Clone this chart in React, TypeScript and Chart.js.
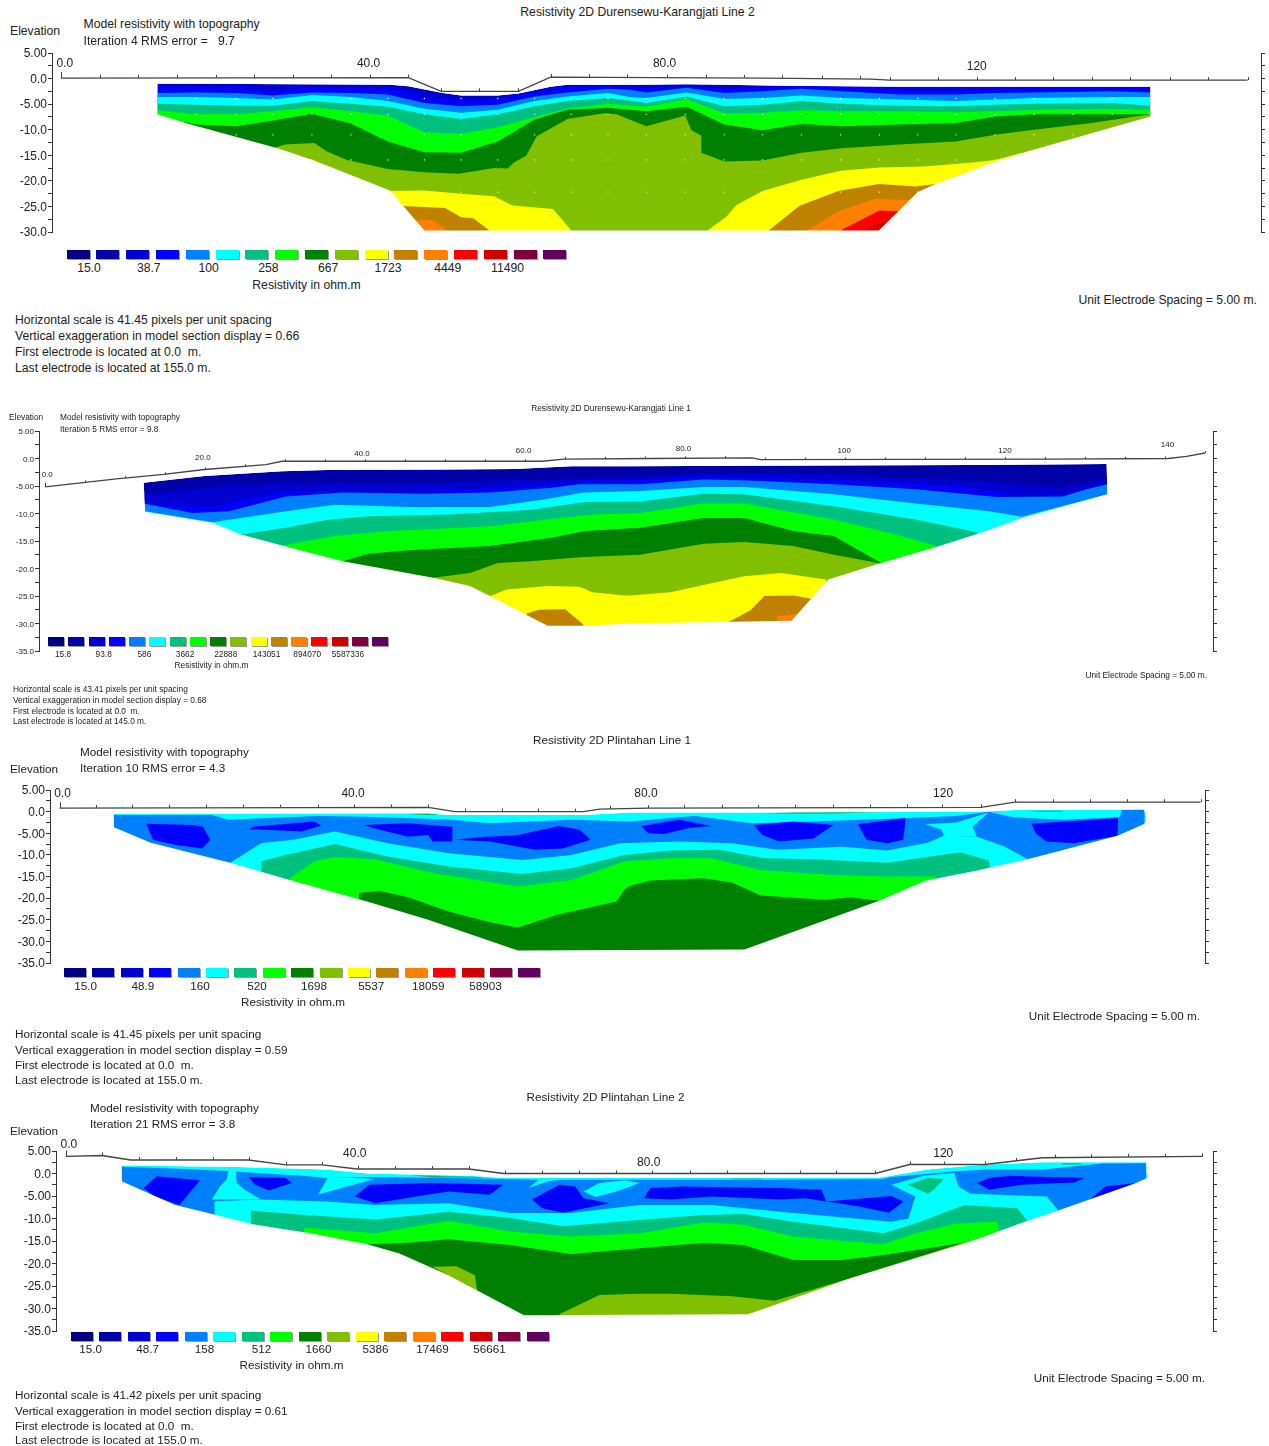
import React, { useEffect, useRef } from 'react';
import { Chart, registerables } from 'chart.js';

Chart.register(...registerables);

// ---------- shared colour scale ----------
const palette = ['#000080','#0000a8','#0000d0','#0000ff','#0080ff','#00ffff','#00c080','#00ff00','#008000','#80c000','#ffff00','#c08000','#ff8000','#ff0000','#d00000','#800040','#600060'];
const [, NAVY2, BLUE2, BLUE, SKY, CYAN, TEAL, GREEN, DARK, OLIVE, YELLOW, BROWN, ORANGE, RED, DRED] = palette;

// ---------- Panel 1: Durensewu-Karangjati Line 2 ----------
const p1Legend = ['15.0','38.7','100','258','667','1723','4449','11490'];
const p1Surface = [[0,0.1],[45.4,0.2],[49.7,-2.5],[59.8,-2.5],[64,0.3],[91.7,0.1],[105.9,-0.1],[108.3,-0.3],[155.1,-0.3]];
const p1Ticks = [0,5.1,10.1,15.1,20.2,25.2,30.3,35.3,40.4,45.4,49.7,54.7,59.8,64,69,74,79.2,84.3,89.3,94.3,99.5,104.4,108.3,114.6,119.7,124.7,129.7,134.8,139.8,144.9,149.9,155.1];
const p1XLabels: [string, number, number][] = [['0.0',0.5,3.1],['40.0',40.2,3.1],['80.0',78.9,3.1],['120',119.7,2.5]];
const p1Outline = [[12.6,-1],[18.7,-1],[43,-1.2],[45.4,-1.5],[49.9,-2.8],[52.3,-3.3],[57.1,-3.3],[59.8,-2.9],[64,-1.6],[66.2,-1.2],[75.7,-1.2],[81.8,-1.1],[86.7,-1.2],[94.4,-1.4],[109.6,-1.6],[142.4,-1.6],[142.4,-7.4],[126.4,-14.2],[122.2,-16.2],[114.3,-20.6],[112,-22.2],[106.9,-29.7],[47.5,-29.7],[43,-21.9],[33.1,-16],[28.3,-13.6],[16.5,-8.8],[12.6,-7]];
const p1X = [12.6,17.6,22.9,27.7,32.8,37.9,42.7,47.5,52.3,57.1,61.9,66.2,71.5,74.3,76.5,81.8,86.7,91.7,96.8,102.1,109.6,117,122.1,127.2,137.4,142.4];
const p1Blue = [-1.6,-1.6,-1.8,-2.5,-1.6,-1.6,-1.8,-3.5,-4.1,-4.0,-2.5,-1.6,-1.4,-1.6,-1.8,-1.4,-2.0,-1.8,-1.4,-1.6,-1.8,-1.8,-1.7,-1.7,-1.7,-1.7];
const p1Sky = [-2.8,-2.7,-2.8,-3.3,-2.7,-2.8,-3.1,-4.8,-5.4,-5.1,-3.5,-2.7,-2.0,-2.2,-2.7,-1.8,-2.8,-2.5,-2.0,-2.5,-3.1,-3.1,-2.8,-2.7,-2.5,-2.7];
const p1Cyan = [-3.6,-3.6,-3.8,-4.1,-3.2,-3.6,-4.4,-5.9,-6.7,-6.1,-4.4,-3.5,-2.8,-3.6,-3.8,-2.7,-4.0,-3.8,-3.3,-3.8,-4.1,-4.4,-4.1,-3.8,-3.6,-3.6];
const p1Teal = [-4.9,-5.1,-5.3,-5.3,-4.4,-4.9,-5.5,-7.0,-7.9,-7.0,-5.4,-4.4,-3.8,-4.3,-4.8,-3.5,-5.4,-5.1,-4.4,-4.9,-5.3,-5.4,-5.1,-4.9,-4.8,-5.3];
const p1Green = [-6.2,-7.0,-7.0,-6.4,-5.6,-6.4,-7.2,-10.5,-10.8,-9.5,-7.5,-5.9,-4.9,-5.3,-5.5,-4.1,-6.8,-6.7,-6.2,-6.4,-6.4,-6.6,-6.4,-6.1,-5.9,-6.1];
const p1Dark = [-7.4,-9.0,-9.3,-8.2,-6.9,-8.8,-12.3,-14.4,-14.5,-12.3,-8.0,-6.1,-5.7,-6.1,-6.4,-5.5,-9.0,-10.1,-8.9,-9.3,-9.0,-8.7,-7.4,-7.0,-7.0,-7.0];
const p1Olive = [[27.2,-13.9],[29.3,-12.9],[33.1,-12.6],[34.7,-14.2],[37.4,-15.9],[42.7,-17.7],[47.5,-18.3],[52,-18.6],[56.6,-17.5],[58.4,-17.6],[59.2,-16.4],[60.8,-15.1],[62.2,-11.3],[66.2,-7.9],[71,-6.8],[72.6,-7],[74.3,-8],[76.5,-9.3],[81.6,-7.2],[82.4,-10.1],[83.7,-11.2],[83.7,-14.5],[86.7,-16.2],[91.7,-16],[96.8,-14.5],[102.1,-13.6],[109.6,-12.9],[117,-12.3],[122.1,-11],[127.2,-10],[134.7,-8.7],[142.4,-7]];
const p1YellowA = [[42,-22],[47.5,-21.9],[52.3,-22.5],[56.6,-23],[59,-24.8],[64.3,-25.5],[66.7,-29.7]];
const p1YellowB = [[84.5,-29.7],[86.9,-27.1],[88.3,-24.7],[91.7,-22],[96.8,-19.8],[101.9,-18],[107,-17.4],[112.8,-17.2],[119.2,-16.4],[122.1,-15.9],[125.6,-14.5]];
const p1BrownA = [[44.6,-24.9],[50.2,-25.3],[52.3,-27.1],[53.9,-27.3],[56,-29.7]];
const p1BrownB = [[92.5,-29.7],[96.5,-24.9],[101.6,-22],[106.9,-20.6],[111.7,-21.1],[114.4,-20.6]];
const p1OrangeA = [[46.4,-27.7],[48.6,-27.7],[50.4,-29.7]];
const p1OrangeB = [[97.6,-29.7],[101.6,-26],[106.4,-23.5],[109.6,-23.7],[111.7,-23.7]];
const p1Red = [[101.9,-29.7],[107,-25.8],[110.2,-26]];
const p1DarkRed = [[105.1,-29.7],[107,-28.1],[108.6,-28.1]];
const p1DotColumns = [17.6,22.9,27.7,32.8,37.9,42.7,47.5,52.3,57.1,61.9,66.7,71.5,76.5,81.6,86.7,91.7,96.8,101.9,107,112,117,122.1,127.2,132.3,137.4];
const p1DotRows = [-3.9,-7,-11,-15.9,-22.2];

// ---------- Panel 2: Durensewu-Karangjati Line 1 ----------
const p2Legend = ['15.8','93.8','586','3662','22888','143051','894070','5587336'];
const p2Surface = [[0,-5.15],[8.9,-3.7],[14.8,-2.9],[19.9,-2],[27.6,-1.1],[29.6,-0.5],[62.2,-0.5],[64.8,-0.1],[75.9,0],[88.4,0.1],[89.4,-0.2],[126.2,-0.1],[140.4,0],[142.7,0.4],[145,1]];
const p2Ticks = [0,5,10,15,20,25,30,35,40,45,50,55,60,65,70,75,80,85,90,95,100,105,110,115,120,125,130,135,140,145];
const p2XLabels: [string, number, number][] = [['0.0',0.25,-2.7],['20.0',19.7,0.4],['40.0',39.6,1.1],['60.0',59.8,1.6],['80.0',79.8,2],['100',99.9,1.6],['120',120,1.6],['140',140.3,2.7]];
const p2Outline = [[12.3,-4.4],[19.9,-3.2],[29.6,-2.3],[35.2,-2.1],[50,-2],[58.7,-1.9],[65.8,-1.4],[73.1,-1.4],[88.4,-1.3],[115.5,-1.2],[125.2,-1.1],[132.7,-1],[132.8,-6.5],[122.1,-10.8],[117,-13.5],[111.4,-16.1],[104.5,-19],[97.9,-22],[93.3,-29.5],[73.1,-30],[67.3,-30.4],[62.8,-30.4],[55.6,-25],[53.1,-23.2],[48.5,-21.7],[37.2,-18.7],[29.6,-15.8],[24.5,-13.8],[20.9,-11.7],[12.5,-9.7]];
const p2Blue2 = [[12.3,-6.5],[20.9,-5.2],[30.1,-4.4],[45.4,-4.7],[60.7,-3.8],[74.4,-3.3],[82.3,-2.7],[98.6,-2.9],[113.9,-3.8],[127.2,-5.2],[132.7,-3.8]];
const p2Blue = [[12.3,-8.2],[20.9,-8.8],[30.1,-5.9],[45.4,-5.9],[55.6,-5.5],[65.8,-4.4],[74.4,-3.9],[82.3,-3.3],[98.6,-3.8],[113.9,-5],[124.1,-7.2],[128.7,-6.2],[132.7,-4.7]];
const p2Sky = [[12.3,-8.2],[18.4,-9.9],[23,-9.6],[30.1,-6.9],[37.2,-6.2],[47.4,-6.4],[55.6,-6.2],[63.3,-5.3],[66.8,-4.7],[74.4,-4.7],[82.3,-3.8],[87.9,-4],[98.6,-4.7],[108.8,-5.6],[119,-7],[127.2,-6.9],[130.2,-5.6],[132.8,-4.7]];
const p2Cyan = [[12.5,-9.6],[20.9,-11.6],[30.1,-9.6],[36.2,-8.4],[45.4,-8.8],[55.6,-8.8],[62.2,-7.5],[67.3,-6.2],[74.4,-5.9],[82.3,-5.2],[87.4,-5.2],[98.6,-6.5],[108.8,-8.2],[118,-9.6],[122.1,-10.6],[132.8,-6.5]];
const p2Teal = [[24.5,-13.8],[30.1,-12.6],[35.2,-11.2],[40.3,-10.5],[50.5,-10.2],[60.7,-9.3],[67.5,-7.9],[74.4,-7.8],[82.3,-6.4],[87.4,-6.5],[98.6,-8.7],[108.8,-11.1],[116.5,-13.4]];
const p2Green = [[29.6,-15.8],[36.2,-14.1],[42.9,-13.2],[55.6,-12.3],[63.3,-11],[68.4,-10.2],[74.4,-9.9],[82.3,-8.2],[87.4,-8.2],[98.6,-11.1],[106.3,-13.8],[111.4,-15.9]];
const p2Dark = [[37.2,-18.7],[40.3,-17.3],[45.4,-16.7],[55.6,-15.9],[63.3,-14.4],[67.5,-13.2],[74.4,-12.6],[82.3,-10.8],[87.4,-10.8],[93.5,-13.2],[98.6,-14.1],[104.5,-19]];
const p2Olive = [[48.5,-21.7],[53.1,-20.8],[56.6,-19],[60.7,-18.7],[67.3,-17.9],[74.4,-17.5],[82.3,-15.5],[87.4,-15.2],[93.5,-15.9],[98.6,-17.5],[104.5,-19.1]];
const p2Yellow = [[55.6,-25],[57.7,-23.8],[62.8,-23.2],[66.8,-23.3],[68.4,-24.3],[72.4,-24.9],[73.1,-24.9],[78.2,-24.3],[83.3,-22.7],[87.4,-21.4],[92,-20.8],[97.6,-22]];
const p2BrownA = [[60.2,-28.2],[61.7,-27.5],[65,-27.4],[67.3,-30.2]];
const p2BrownB = [[85.3,-29.8],[88.2,-27.6],[89.9,-25],[93.5,-24.9],[95.8,-25.5]];
const p2Orange = [[91.5,-28.7],[93.3,-28.4],[94,-28.4]];

// ---------- Panel 3: Plintahan Line 1 ----------
const p3Legend = ['15.0','48.9','160','520','1698','5537','18059','58903'];
const p3Surface = [[0,0.8],[50.1,1],[51.8,0.5],[53.7,0],[71.2,0],[73.4,0.6],[80,0.8],[125.2,1],[129.9,2.2],[155.1,2.2]];
const p3Ticks = [0,4.9,9.9,14.9,19.9,24.9,30,35.1,40,45,50.1,55.1,60.1,65,70,74.8,80,84.9,90,95,100,105.1,110.1,115.2,120,125.2,129.9,135,140.1,145.1,150.1,155.1];
const p3XLabels: [string, number, number][] = [['0.0',0.4,4.3],['40.0',39.9,4.3],['80.0',79.7,4.3],['120',120.1,4.3]];
const p3Outline = [[7.4,-0.5],[50.1,-0.4],[52.9,-0.8],[71.2,-0.8],[77.5,-0.2],[94.1,-0.2],[125.2,0],[129.9,0.4],[147.4,0.5],[147.7,-1.2],[147.5,-2.8],[143.8,-5.6],[131.6,-11],[124.7,-13.6],[117.7,-16],[111.4,-20.6],[93.1,-31.9],[62.3,-32.1],[50.1,-25],[41.8,-20.8],[31.3,-15.8],[23.2,-11.8],[12.4,-7.2],[7.4,-3.6]];
const p3Sky = [[7.4,-0.8],[11.3,-0.8],[20.7,-0.8],[23,-1.9],[30.7,-1.3],[35.2,-1],[41.8,-1.2],[52.9,-1.8],[58.5,-2.7],[69.6,-1.9],[77.5,-2.3],[84.2,-1.3],[86.4,-1],[94.1,-2.7],[105.2,-2.1],[115.2,-1.5],[121.9,-1],[126.3,0],[129.6,-1.3],[136.3,-1.9],[144.1,-1.3],[144.4,0.4],[147.5,0.5]];
const p3Lens1 = [[11.8,-2.8],[18,-3.1],[19.5,-3.5],[20.5,-6.5],[19.4,-8.5],[15.8,-7.7],[12.7,-6.5]];
const p3Lens2 = [[25.8,-4.1],[26.3,-3.5],[34.6,-2.3],[35.6,-3.2],[32.9,-4.6],[28,-4.2]];
const p3Lens3 = [[41.3,-3.1],[47.4,-2.7],[53.4,-3.5],[53.4,-6.9],[50.7,-6.9],[50.1,-5.4],[47.4,-5.8],[43.5,-4.2]];
const p3Lens4 = [[53.5,-6.5],[57.9,-5.8],[62.3,-5.4],[67.9,-3.3],[70.7,-4.2],[72.2,-6.5],[68.4,-8.5],[64.6,-8.8],[58.5,-6.9]];
const p3Lens5 = [[79.1,-3.3],[84.2,-1.9],[88.6,-3.3],[85.6,-3.8],[82.2,-5.2],[80,-5]];
const p3Lens6 = [[94.4,-3.1],[99.7,-2.3],[105.2,-3.1],[102.5,-6.2],[97.8,-6.9],[95.5,-5.4]];
const p3Lens7 = [[108.5,-2.9],[115,-1.5],[114.7,-6.5],[112.5,-7.3],[109.7,-6.5]];
const p3Lens8 = [[132.1,-2.8],[143.9,-1.5],[143.8,-5.6],[137.9,-7.3],[134.1,-6.9],[132.7,-5]];
const p3Cyan = [[23.2,-11.8],[27.4,-7.3],[31.8,-6.5],[37.4,-4.6],[44.6,-7.3],[52.9,-9.6],[62.9,-11.2],[69.6,-10],[76.2,-7.3],[84.2,-6.9],[91.4,-7.3],[97.5,-8.8],[106.4,-8.1],[112.5,-9],[118,-7.2],[120.2,-5.6],[124.7,-5.8],[128.5,-8.1],[131.6,-11]];
const p3CyanGap = [[117.7,-2.9],[121.9,-2.5],[126.3,-0.2],[124.1,-3.5],[124.7,-5.8],[120.2,-5.6],[119.9,-4.2]];
const p3Teal = [[27.4,-14.2],[27.4,-11.5],[30.7,-10],[37.4,-7.5],[44.6,-10.4],[52.9,-12.7],[62.9,-14.4],[69.6,-13.1],[76.8,-10],[83,-9],[89.7,-8.8],[95.8,-10.8],[102.5,-11],[112.5,-11.8],[122.4,-9.4],[126.3,-11.3],[126.6,-13.8]];
const p3Green = [[31.3,-15.4],[34.6,-11.5],[37.4,-10.5],[42.9,-11],[50.7,-14.2],[62.3,-17.3],[69.6,-15.8],[76.8,-11.5],[83,-10.8],[88.6,-10.8],[95.3,-13.5],[104.7,-14.6],[112.5,-15],[119.1,-15]];
const p3Dark = [[40.7,-18.8],[43.5,-18.3],[47.4,-19.8],[52.9,-23.1],[58.5,-25.6],[62.3,-26.8],[67.9,-23.7],[75.7,-20.8],[76.8,-18],[77.5,-17.2],[80.3,-15.9],[87.5,-15.4],[91.4,-16.4],[95.3,-19.4],[104.1,-20.4],[107.5,-19.8],[111.4,-20.6]];
const p3SliverA = [[47.4,-0.5],[51.2,-0.5],[51.2,-0.8],[49,-0.8]];
const p3SliverB = [[95.8,-0.5],[100,-0.1],[111.9,-0.1],[105,-0.5]];
const p3SliverC = [[131.6,0.2],[136.3,0.2],[136.3,-0.1],[133,-0.1]];

// ---------- Panel 4: Plintahan Line 2 ----------
const p4Legend = ['15.0','48.7','158','512','1660','5386','17469','56661'];
const p4Surface = [[0,3.8],[4.9,4],[8.8,3],[24.9,3],[30,1.9],[35,1.9],[39.7,1],[55,1],[59.7,0],[110.4,0],[115.1,2],[125.4,2],[133.2,3.5],[155.1,3.8]];
const p4Ticks = [0,4.9,10,15,20,25,30,35,39.9,44.9,50,55,59.9,65,70,75,80,85.2,90.2,95.2,100.2,105,110.4,115.1,119.8,125.4,129.6,134.9,139.8,144.9,150,155];
const p4XLabels: [string, number, number][] = [['0.0',0.4,6.6],['40.0',39.4,4.6],['80.0',79.5,2.6],['120',119.7,4.6]];
const p4Outline = [[7.6,1.8],[22.2,1.5],[35.5,0.9],[41.1,0],[55,-0.5],[60,-1],[110.4,-1],[112.6,-0.5],[117.6,0.9],[125.4,2],[133.2,2.5],[147.4,2.5],[147.5,-1],[146,-2.1],[135.4,-8.2],[131.2,-10.5],[123.2,-15.2],[107,-23.3],[93.1,-31.3],[62.5,-31.5],[52.2,-22.6],[45.5,-17.8],[41.1,-15.7],[33.3,-13.3],[25.5,-11.3],[20.5,-9.2],[14.9,-7],[7.6,-1.7]];
const p4Sky = [[7.6,1.5],[16,1],[21.3,0.6],[32.2,-0.5],[35.5,-1],[41.1,-0.8],[52.2,-1],[60,-1.2],[64.5,-1.4],[76.9,-1.4],[93.7,-1.4],[111.5,-1.2],[112.6,-0.8],[121.5,0.5],[125.4,0.9],[133.2,0.9],[141.5,2.2],[147.4,2.3]];
const p4LensA = [[10.6,-3.2],[12.4,-0.6],[18.3,-1.5],[15.5,-7],[12.1,-5.1]];
const p4LensB = [[24.9,-0.8],[30,-1],[30.8,-2.1],[27.7,-3.8],[25.8,-2.5]];
const p4LensC = [[39.4,-5.1],[41.4,-2.5],[50,-2.1],[59.7,-2.5],[57.8,-4.7],[52.2,-4],[47.8,-5.1],[42.2,-6.6]];
const p4LensD = [[63.6,-5.8],[67.3,-2.5],[69.5,-2.9],[70.6,-5.5],[74.2,-6.6],[67.8,-8.7],[65,-7.7]];
const p4LensE = [[78.9,-5.5],[79.7,-3.2],[84.2,-2.9],[97.5,-3.2],[103.1,-3.6],[103.7,-6.2],[100.9,-5.5],[97.5,-5.8],[88.1,-5.1],[82.5,-5.8]];
const p4LensF = [[103.7,-6.2],[112.6,-5],[114.3,-6.2],[112.3,-8.7],[108.1,-7.3]];
const p4LensG = [[124.3,-2.1],[126,-1],[128.7,-0.5],[139,-1],[137.6,-2],[130.4,-2.5],[126,-3.6]];
const p4LensH = [[139.8,-5.7],[141.8,-2.9],[146,-2.1],[142.4,-5]];
const p4Cyan = [[20.3,-9.2],[19.9,-6.2],[26.6,-5.8],[35.5,-6.2],[42.2,-7],[52.2,-6.6],[60.6,-8.8],[68.9,-8.8],[78.3,-7],[88.1,-7],[99.2,-8.8],[112.6,-10.7],[115.4,-9.9],[121.5,-7],[129.8,-7.3],[133.8,-5.1],[135.4,-8.2]];
const p4CyanA = [[22.2,0.9],[23.2,0.5],[23.3,-2.1],[24.4,-3.6],[26.6,-5.8],[19.9,-5.8],[21,-2.9],[21.9,-1.4]];
const p4CyanB = [[35.8,-0.8],[34.4,-4.7],[38.3,-2.9],[42.2,-1.2]];
const p4CyanC = [[63.1,-3.2],[65.9,-1.7],[68.9,-1],[64.5,-1.4]];
const p4CyanD = [[70.6,-4],[72.8,-2.1],[76.2,-1.5],[78.3,-2.1],[75.1,-4],[72.3,-5.2]];
const p4CyanE = [[112.6,-2.5],[117,-0.5],[121.2,0.1],[121.8,-2.9],[123.4,-4.5],[133.8,-5.1],[134.9,-7.4],[122.6,-7.4],[114.8,-10.7],[115.9,-5.1]];
const p4TealLens = [[114.8,-2.5],[117.6,-1],[119.8,-1.2],[118.4,-3.6],[117.6,-4.5]];
const p4SliverA = [[46.9,-0.4],[56.7,-0.8],[56.7,-1],[50,-0.9]];
const p4SliverB = [[91,-1.1],[95,-1.1],[95,-1.3],[91,-1.3]];
const p4SliverC = [[136,2.3],[138.5,2.3],[138.5,2],[136,2]];
const p4Teal = [[25.2,-11],[25.2,-8.2],[32.7,-9.2],[42.2,-10.2],[52.2,-8.5],[60.6,-9.9],[67.8,-11.7],[76.9,-10.5],[87,-9.2],[92.5,-9],[99.2,-10.7],[111.5,-13.3],[115.9,-11.1],[122.6,-7],[129.8,-7.7],[131.2,-10.5]];
const p4Green = [[32.5,-12],[42.2,-13.3],[52.2,-10.5],[60.6,-12.9],[68.9,-14],[78.3,-13.3],[87,-10.9],[92.5,-11.4],[99.2,-14],[111.5,-15.7],[115.9,-13.3],[121.5,-11.1],[127,-10.7],[127.3,-12.9]];
const p4Dark = [[41.1,-15.7],[46.7,-15.4],[52.2,-14.6],[60.6,-15.9],[68.9,-17.9],[78.3,-16.6],[87,-15.4],[92.5,-15.9],[99.2,-19.2],[105.9,-19.2],[111.5,-18.1],[123.2,-15.2]];
const p4OliveLens = [[50,-20.7],[53.3,-20.6],[55.8,-22.6],[56.1,-26],[52.2,-22.6]];
const p4OliveFloor = [[67.3,-31.3],[72.8,-27],[78.3,-26.7],[82.5,-26.7],[90.9,-27.3],[96.7,-28.3],[107,-23.3],[123.2,-15]];

// ---------- helpers ----------
type Pts = number[][];
type Layer = { color: string; pts: Pts; fill: 'start' | 'shape' };
const zip = (xs: number[], ys: number[]): Pts => xs.map((x, i) => [x, ys[i]]);
const down = (color: string, pts: Pts): Layer => ({ color, pts, fill: 'start' });
const poly = (color: string, pts: Pts): Layer => ({ color, pts, fill: 'shape' });
const surfaceAt = (s: Pts, x: number) => {
  for (let i = 1; i < s.length; i++) {
    if (x <= s[i][0]) {
      const t = (x - s[i - 1][0]) / (s[i][0] - s[i - 1][0] || 1);
      return s[i - 1][1] + t * (s[i][1] - s[i - 1][1]);
    }
  }
  return s[s.length - 1][1];
};

type Panel = {
  left: number; right: number; top: number; bottom: number; xMin: number; xMax: number; yMin: number;
  font: number; surface: Pts; ticks: number[]; xLabels: [string, number, number][]; outline: Pts;
  base: string; layers: Layer[]; dots?: Pts; blur: number; tickLen: number;
};

const panels: Panel[] = [
  {
    left: 52, right: 1261, top: 53, bottom: 232, xMin: -1.18, xMax: 156.86, yMin: -30, font: 12, blur: 0, tickLen: 3,
    surface: p1Surface, ticks: p1Ticks, xLabels: p1XLabels, outline: p1Outline, base: BLUE2,
    layers: [
      down(BLUE, zip(p1X, p1Blue)), down(SKY, zip(p1X, p1Sky)), down(CYAN, zip(p1X, p1Cyan)), down(TEAL, zip(p1X, p1Teal)),
      down(GREEN, zip(p1X, p1Green)), down(DARK, zip(p1X, p1Dark)), down(OLIVE, p1Olive), down(YELLOW, p1YellowA), down(YELLOW, p1YellowB),
      down(BROWN, p1BrownA), down(BROWN, p1BrownB), down(ORANGE, p1OrangeA), down(ORANGE, p1OrangeB), down(RED, p1Red), down(DRED, p1DarkRed),
    ],
    dots: p1DotRows.flatMap((y) => p1DotColumns.map((x) => [x, y])),
  },
  {
    left: 39, right: 1213, top: 431, bottom: 651, xMin: -0.78, xMax: 146, yMin: -35, font: 8, blur: 0.6, tickLen: 2,
    surface: p2Surface, ticks: p2Ticks, xLabels: p2XLabels, outline: p2Outline, base: NAVY2,
    layers: [
      down(BLUE2, p2Blue2), down(BLUE, p2Blue), down(SKY, p2Sky), down(CYAN, p2Cyan), down(TEAL, p2Teal), down(GREEN, p2Green), down(DARK, p2Dark),
      down(OLIVE, p2Olive), down(YELLOW, p2Yellow), down(BROWN, p2BrownA), down(BROWN, p2BrownB), down(ORANGE, p2Orange),
    ],
  },
  {
    left: 50, right: 1205, top: 790, bottom: 963, xMin: -1.3, xMax: 155.7, yMin: -35, font: 12, blur: 0.4, tickLen: 3,
    surface: p3Surface, ticks: p3Ticks, xLabels: p3XLabels, outline: p3Outline, base: CYAN,
    layers: [
      poly(TEAL, p3SliverA), poly(TEAL, p3SliverB), poly(TEAL, p3SliverC),
      down(SKY, p3Sky),
      ...[p3Lens1, p3Lens2, p3Lens3, p3Lens4, p3Lens5, p3Lens6, p3Lens7, p3Lens8].map((l) => poly(BLUE, l)),
      down(CYAN, p3Cyan), poly(CYAN, p3CyanGap), down(TEAL, p3Teal), down(GREEN, p3Green), down(DARK, p3Dark),
    ],
  },
  {
    left: 56, right: 1213, top: 1151, bottom: 1331, xMin: -1.36, xMax: 156.5, yMin: -35, font: 12, blur: 0.4, tickLen: 3,
    surface: p4Surface, ticks: p4Ticks, xLabels: p4XLabels, outline: p4Outline, base: CYAN,
    layers: [
      poly(TEAL, p4SliverA), poly(TEAL, p4SliverB), poly(TEAL, p4SliverC),
      down(SKY, p4Sky),
      ...[p4LensA, p4LensB, p4LensC, p4LensD, p4LensE, p4LensF, p4LensG, p4LensH].map((l) => poly(BLUE, l)),
      down(CYAN, p4Cyan), ...[p4CyanA, p4CyanB, p4CyanC, p4CyanD, p4CyanE].map((l) => poly(CYAN, l)), poly(TEAL, p4TealLens),
      down(TEAL, p4Teal), down(GREEN, p4Green), down(DARK, p4Dark), poly(OLIVE, p4OliveLens), down(OLIVE, p4OliveFloor),
    ],
  },
];

const FONT = '"Liberation Sans", Arial, sans-serif';
const INK = '#222';
const PAD = 13;

function Section({ panel }: { panel: Panel }) {
  const ref = useRef<HTMLCanvasElement>(null);
  useEffect(() => {
    const p = panel;
    const toXY = (pts: Pts) => pts.map(([x, y]) => ({ x, y }));
    // White surround: plot frame joined to the reversed section outline, so only the section stays coloured.
    const inset = (p.xMax - p.xMin) / 1000;
    const a = p.xMin + inset;
    const b = p.xMax - inset;
    const frame: Pts = [[a, 5], [b, 5], [b, p.yMin], [a, p.yMin], [a, 5]];
    const hole = [...p.outline, p.outline[0]].reverse();
    const surround: Pts = [...frame, ...hole, [a, 5]];

    const painted: any[] = [
      { data: toXY(p.outline), fill: 'shape', backgroundColor: p.base, borderWidth: 0, pointRadius: 0, yAxisID: 'y' },
      ...p.layers.map((l) => ({ data: toXY(l.pts), fill: l.fill, backgroundColor: l.color, borderWidth: 0, pointRadius: 0, yAxisID: 'y' })),
    ];
    if (p.dots) painted.push({ data: toXY(p.dots), showLine: false, pointRadius: 0.7, pointBorderWidth: 0, pointBackgroundColor: '#ffffff', yAxisID: 'y' });
    painted.push({ data: toXY(surround), fill: 'shape', backgroundColor: '#ffffff', borderWidth: 0, pointRadius: 0, yAxisID: 'y' });
    painted.push({ data: toXY(p.surface), fill: false, borderColor: '#444', borderWidth: 1.3, pointRadius: 0, yAxisID: 'y' });

    const surfaceTicks = {
      id: 'surfaceTicks',
      afterDatasetsDraw(chart: any) {
        const { ctx, scales } = chart;
        ctx.save();
        ctx.strokeStyle = '#444';
        ctx.lineWidth = 1;
        p.ticks.forEach((x) => {
          const px = Math.round(scales.x.getPixelForValue(x)) + 0.5;
          const py = scales.y.getPixelForValue(surfaceAt(p.surface, x));
          ctx.beginPath();
          ctx.moveTo(px, py);
          ctx.lineTo(px, py - (x === 0 ? 2 * p.tickLen : p.tickLen));
          ctx.stroke();
        });
        ctx.fillStyle = INK;
        ctx.font = `${p.font}px ${FONT}`;
        ctx.textAlign = 'center';
        ctx.textBaseline = 'middle';
        p.xLabels.forEach(([text, x, y]) => ctx.fillText(text, scales.x.getPixelForValue(x), scales.y.getPixelForValue(y) + 1));
        ctx.restore();
      },
    };

    const chart = new Chart(ref.current as HTMLCanvasElement, {
      type: 'line',
      data: { datasets: painted.reverse() },
      plugins: [surfaceTicks],
      options: {
        animation: false,
        responsive: false,
        devicePixelRatio: 1,
        events: [],
        layout: { padding: { top: PAD, bottom: PAD, left: 0, right: 0 } },
        plugins: { legend: { display: false }, tooltip: { enabled: false }, title: { display: false } },
        scales: {
          x: { type: 'linear', display: false, min: p.xMin, max: p.xMax },
          y: {
            type: 'linear', position: 'left', min: p.yMin, max: 5,
            afterFit: (s: any) => { s.width = p.left; },
            border: { color: '#333', width: 1 },
            grid: { drawOnChartArea: false, tickLength: 4, color: '#333' },
            ticks: {
              stepSize: 2.5, autoSkip: false, maxRotation: 0, padding: 1, labelOffset: 1, color: INK, font: { size: p.font, family: FONT },
              callback: (v: any) => {
                const n = Number(v);
                if (n % 5 !== 0) return '';
                return Math.abs(n) === 5 ? n.toFixed(2) : n.toFixed(1);
              },
            },
          },
          yr: {
            type: 'linear', position: 'right', min: p.yMin, max: 5,
            afterFit: (s: any) => { s.width = 1269 - p.right; },
            border: { color: '#333', width: 1 },
            grid: { drawOnChartArea: false, tickLength: 4, color: '#333' },
            ticks: { stepSize: 2.5, autoSkip: false, display: false },
          },
        },
      } as any,
    });
    return () => chart.destroy();
  }, [panel]);
  return (
    <canvas
      ref={ref}
      width={1269}
      height={panel.bottom - panel.top + 2 * PAD}
      style={{ position: 'absolute', left: 0, top: panel.top - PAD, display: 'block' }}
    />
  );
}

function T({ x, y, size = 12, align = 'left', children }: any) {
  const shift = align === 'center' ? '-50%' : align === 'right' ? '-100%' : '0';
  return (
    <span style={{ position: 'absolute', left: x, top: y, transform: `translate(${shift},-50%)`, fontFamily: FONT, fontSize: size, lineHeight: 1, color: INK, whiteSpace: 'pre' }}>
      {children}
    </span>
  );
}

function Swatches({ x, y, w, h, step }: any) {
  return (
    <>
      {palette.map((c, i) => (
        <div key={c} style={{ position: 'absolute', left: x + i * step, top: y, width: w, height: h, background: c, boxShadow: '1px 1px 0 #999' }} />
      ))}
    </>
  );
}

type Copy = {
  title: string; tx: number; ty: number; ex: number; ey: number; mx: number; my: number; iy: number; iter: string;
  sx: number; sy: number; sw: number; sh: number; step: number; lx: number; ly: number; lstep: number; legend: string[];
  rx: number; ry: number; ux: number; uy: number; notes: string[]; nx: number; ny: number[]; size: number;
};

const copy: Copy[] = [
  { title: 'Resistivity 2D Durensewu-Karangjati Line 2', tx: 637.5, ty: 12, ex: 10, ey: 31, mx: 83.5, my: 24, iy: 41, iter: 'Iteration 4 RMS error =   9.7',
    sx: 66.5, sy: 249.5, sw: 23, sh: 9, step: 29.8, lx: 89, ly: 268, lstep: 59.8, legend: p1Legend, rx: 306.5, ry: 285, ux: 1257, uy: 300,
    notes: ['Horizontal scale is 41.45 pixels per unit spacing', 'Vertical exaggeration in model section display = 0.66', 'First electrode is located at 0.0  m.', 'Last electrode is located at 155.0 m.'], nx: 15, ny: [320, 336, 352, 368], size: 12.2 },
  { title: 'Resistivity 2D Durensewu-Karangjati Line 1', tx: 611, ty: 408, ex: 9, ey: 417, mx: 60, my: 417, iy: 429, iter: 'Iteration 5 RMS error = 9.8',
    sx: 48, sy: 637, sw: 16, sh: 9, step: 20.25, lx: 63, ly: 653.5, lstep: 40.7, legend: p2Legend, rx: 211.5, ry: 665, ux: 1207, uy: 675,
    notes: ['Horizontal scale is 43.41 pixels per unit spacing', 'Vertical exaggeration in model section display = 0.68', 'First electrode is located at 0.0  m.', 'Last electrode is located at 145.0 m.'], nx: 13, ny: [689, 700, 711, 721], size: 8.3 },
  { title: 'Resistivity 2D Plintahan Line 1', tx: 612, ty: 740, ex: 10, ey: 769, mx: 80, my: 752, iy: 768, iter: 'Iteration 10 RMS error = 4.3',
    sx: 64, sy: 967.5, sw: 22, sh: 9, step: 28.4, lx: 85.7, ly: 986, lstep: 57.1, legend: p3Legend, rx: 293, ry: 1001.5, ux: 1200, uy: 1016,
    notes: ['Horizontal scale is 41.45 pixels per unit spacing', 'Vertical exaggeration in model section display = 0.59', 'First electrode is located at 0.0  m.', 'Last electrode is located at 155.0 m.'], nx: 15, ny: [1034, 1050, 1065, 1080], size: 11.7 },
  { title: 'Resistivity 2D Plintahan Line 2', tx: 605.5, ty: 1097, ex: 10, ey: 1131, mx: 90, my: 1108, iy: 1123.5, iter: 'Iteration 21 RMS error = 3.8',
    sx: 71, sy: 1331.5, sw: 22, sh: 9, step: 28.47, lx: 90.6, ly: 1349, lstep: 57, legend: p4Legend, rx: 291.5, ry: 1365, ux: 1205, uy: 1378,
    notes: ['Horizontal scale is 41.42 pixels per unit spacing', 'Vertical exaggeration in model section display = 0.61', 'First electrode is located at 0.0  m.', 'Last electrode is located at 155.0 m.'], nx: 15, ny: [1395, 1411, 1426, 1440], size: 11.7 },
];

export default function App() {
  useEffect(() => { document.body.style.margin = '0'; document.body.style.background = '#fff'; }, []);
  return (
    <div style={{ position: 'absolute', left: 0, top: 0, width: 1269, height: 1446, overflow: 'hidden', background: '#fff' }}>
      {panels.map((p, i) => {
        const c = copy[i];
        return (
          <div key={c.title} style={{ position: 'absolute', left: 0, top: 0, width: 1269, height: 1446, filter: p.blur ? `blur(${p.blur}px)` : undefined }}>
            <Section panel={p} />
            <T x={c.tx} y={c.ty} size={c.size} align="center">{c.title}</T>
            <T x={c.ex} y={c.ey} size={c.size}>Elevation</T>
            <T x={c.mx} y={c.my} size={c.size}>Model resistivity with topography</T>
            <T x={c.mx} y={c.iy} size={c.size}>{c.iter}</T>
            <Swatches x={c.sx} y={c.sy} w={c.sw} h={c.sh} step={c.step} />
            {c.legend.map((v, k) => (
              <T key={v} x={c.lx + k * c.lstep} y={c.ly} size={c.size} align="center">{v}</T>
            ))}
            <T x={c.rx} y={c.ry} size={c.size} align="center">Resistivity in ohm.m</T>
            <T x={c.ux} y={c.uy} size={c.size} align="right">Unit Electrode Spacing = 5.00 m.</T>
            {c.notes.map((n, k) => (
              <T key={n} x={c.nx} y={c.ny[k]} size={c.size}>{n}</T>
            ))}
          </div>
        );
      })}
    </div>
  );
}
